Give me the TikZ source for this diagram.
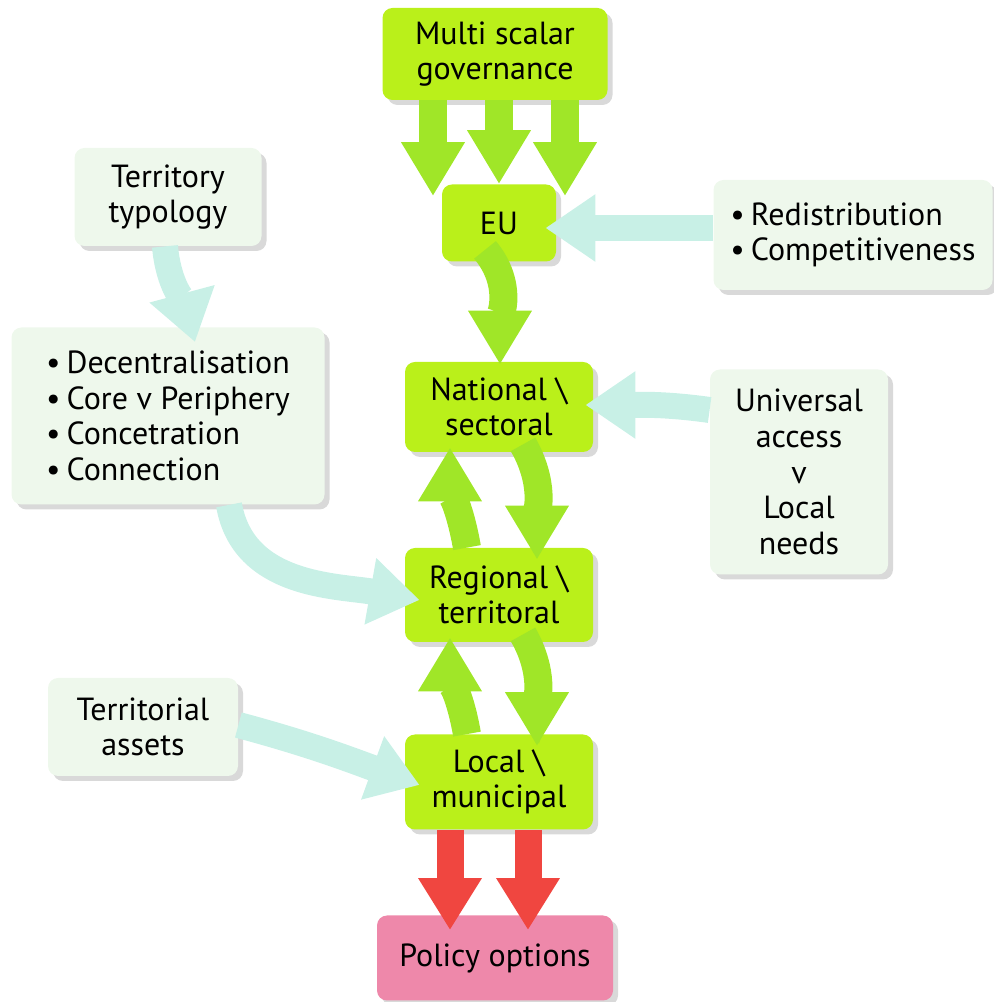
\documentclass[tikz,border=0pt]{standalone}
\usepackage{fontspec}
\setmainfont{PT Sans}
\usetikzlibrary{arrows.meta,calc,shadows}

\definecolor{boxgreen}{RGB}{186,240,26}
\definecolor{flowgreen}{RGB}{160,230,40}
\definecolor{palebox}{RGB}{238,248,236}
\definecolor{paleflow}{RGB}{200,240,230}
\definecolor{policypink}{RGB}{238,136,170}
\definecolor{policyred}{RGB}{240,70,64}

\newcommand{\dotitem}{\textbullet\kern3pt}

\begin{document}
\begin{tikzpicture}[x=0.5pt, y=0.5pt,
    every node/.style={font=\fontsize{16}{17.8}\selectfont, align=center, inner sep=0pt,
        rounded corners=5pt, drop shadow={shadow xshift=2.5pt, shadow yshift=-2.5pt, opacity=0.3}},
    boxsize/.style 2 args={minimum width=#1*0.5pt, minimum height=#2*0.5pt},
    levelbox/.style={fill=boxgreen},
    sidebox/.style={fill=palebox},
    policybox/.style={fill=policypink},
    flow/.style={line width=14pt, flowgreen, -{Triangle[width=30pt,length=27pt]}},
    sideflow/.style={line width=13pt, paleflow, -{Triangle[width=32pt,length=25pt]}},
    outflow/.style={line width=13.5pt, policyred, -{Triangle[width=30pt,length=26pt]}}
]
    \useasboundingbox (0,0) rectangle (993,1002);

    % governance levels
    \node[levelbox, boxsize={225}{92}] (msg) at (495,948) {Multi scalar\\governance};
    \node[levelbox, boxsize={114}{77}] (eu) at (499,779) {EU};
    \node[levelbox, boxsize={188}{90}] (nat) at (499,595) {National \textbackslash\\sectoral};
    \node[levelbox, boxsize={188}{94}] (reg) at (499,407) {Regional \textbackslash\\territoral};
    \node[levelbox, boxsize={188}{95}] (loc) at (499,220) {Local \textbackslash\\municipal};
    \node[policybox, boxsize={236}{85}] (pol) at (495,44) {Policy options};

    % side inputs
    \node[sidebox, boxsize={187}{98}] (typ) at (168,805) {Territory\\typology};
    \node[sidebox, boxsize={313}{177}, align=left] (trends) at (168,586)
        {\dotitem Decentralisation\\\dotitem Core v Periphery\\\dotitem Concetration\\\dotitem Connection};
    \node[sidebox, boxsize={190}{98}] (assets) at (143,275) {Territorial\\assets};
    \node[sidebox, boxsize={279}{110}, align=left] (aims) at (853,767)
        {\dotitem Redistribution\\\dotitem Competitiveness};
    \node[sidebox, boxsize={178}{205}] (access) at (799,530) {Universal\\access\\v\\Local\\needs};

    % top-down flows
    \foreach \dx/\dy in {-66/-12, 0/0, 66/-12}
        \draw[flow] ($(eu.north |- msg.south)+(\dx,0)$) -- ($(eu.north)+(\dx,\dy)$);
    \draw[flow] ($(eu.south)+(-14,12)$) to[out=-50,in=90] ($(nat.north)+(1,-3)$);
    \foreach \upbox/\downbox in {nat/reg, reg/loc} {
        \draw[flow] ($(\downbox.north)+(-32,0)$) to[out=100,in=-90] ($(\upbox.south)+(-49,5)$);
        \draw[flow] ($(\upbox.south)+(24,8)$) to[out=-60,in=90] ($(\downbox.north)+(38,-12)$);
    }
    \foreach \dx in {-49,29}
        \draw[outflow] ($(loc.south)+(\dx,0)$) -- ($(pol.north -| loc.south)+(\dx,-15)$);

    % side flows
    \draw[sideflow] ($(aims.west)+(0,7)$) -- ($(eu.east)+(-11,-5)$);
    \draw[sideflow] ($(access.west)+(0,62)$) to[out=172,in=0] ($(nat.east)+(-8,2)$);
    \draw[sideflow] ($(typ.south)+(-3,0)$) to[out=-85,in=105] ($(trends.north)+(27,-15)$);
    \draw[sideflow] ($(trends.south)+(61,0)$) to[out=-80,in=170] ($(reg.west)+(15,-5)$);
    \draw[sideflow] ($(assets.east)+(0,2)$) to[out=-15,in=160] ($(loc.west)+(15,-3)$);
\end{tikzpicture}
\end{document}
